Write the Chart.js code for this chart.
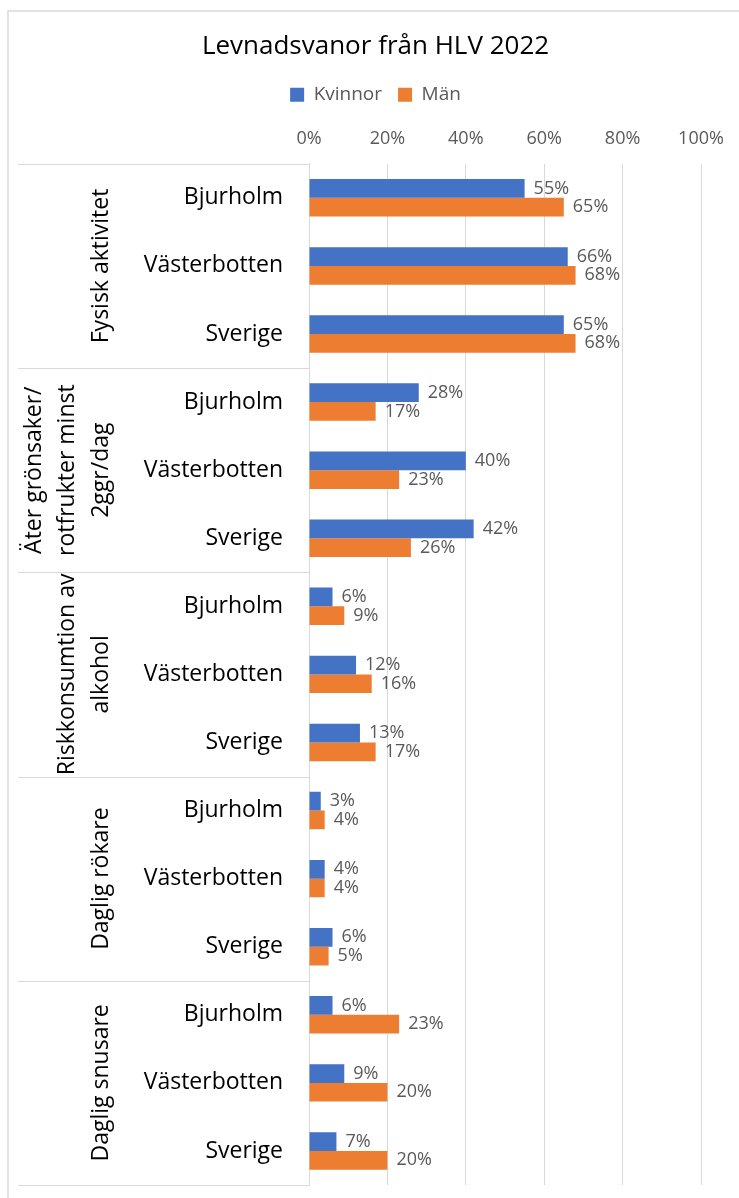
<!DOCTYPE html>
<html>
<head>
<meta charset="utf-8">
<script src="https://cdn.jsdelivr.net/npm/chart.js@4"></script>
<style>
  html, body { margin: 0; padding: 0; background: #fff; }
  #wrap { width: 739px; height: 1198px; }
</style>
</head>
<body>
<div id="wrap"><canvas id="levnadChart" width="739" height="1198"></canvas></div>
<script>
const places = ['Bjurholm', 'Västerbotten', 'Sverige'];
const groups = [
  ['Fysisk aktivitet'],
  ['Äter grönsaker/', 'rotfrukter minst', '2ggr/dag'],
  ['Riskkonsumtion av', 'alkohol'],
  ['Daglig rökare'],
  ['Daglig snusare']
];
const kvinnor = [55, 66, 65, 28, 40, 42, 6, 12, 13, 3, 4, 6, 6, 9, 7];
const man = [65, 68, 68, 17, 23, 26, 9, 16, 17, 4, 4, 5, 23, 20, 20];
const xTicks = [0, 20, 40, 60, 80, 100];

const labels = [];
groups.forEach(() => places.forEach(p => labels.push(p)));

const FONT = "'Open Sans', sans-serif";
const gridCol = '#d9d9d9';

// group labels on the left + separators + outer frame
const groupPlugin = {
  id: 'groupLabels',
  afterDraw(chart) {
    const ctx = chart.ctx;
    const area = chart.chartArea;
    const rowH = (area.bottom - area.top) / labels.length;
    ctx.save();
    ctx.strokeStyle = gridCol;
    ctx.lineWidth = 1.5;
    // outer frame
    ctx.beginPath();
    ctx.moveTo(8, 1198);
    ctx.lineTo(8, 11);
    ctx.lineTo(739, 11);
    ctx.stroke();
    ctx.lineWidth = 1;
    for (let k = 0; k <= groups.length; k++) {
      const y = Math.round(area.top + k * 3 * rowH) + 0.5;
      ctx.beginPath();
      ctx.moveTo(18, y);
      ctx.lineTo(area.left, y);
      ctx.stroke();
    }
    ctx.fillStyle = '#000';
    ctx.font = '23px ' + FONT;
    ctx.textAlign = 'center';
    ctx.textBaseline = 'middle';
    groups.forEach((lines, g) => {
      const yc = area.top + (g * 3 + 1.5) * rowH;
      const n = lines.length;
      lines.forEach((line, i) => {
        const x = 101 - (n - 1 - i) * 33.5;
        ctx.save();
        ctx.translate(x, yc);
        ctx.rotate(-Math.PI / 2);
        ctx.fillText(line, 0, 0);
        ctx.restore();
      });
    });
    ctx.restore();
  }
};

// value labels to the right of each bar
const valuePlugin = {
  id: 'valueLabels',
  afterDatasetsDraw(chart) {
    const ctx = chart.ctx;
    ctx.save();
    ctx.fillStyle = '#595959';
    ctx.font = '18px ' + FONT;
    ctx.textAlign = 'left';
    ctx.textBaseline = 'middle';
    chart.data.datasets.forEach((ds, di) => {
      chart.getDatasetMeta(di).data.forEach((bar, i) => {
        ctx.fillText(ds.data[i] + '%', bar.x + 9, bar.y);
      });
    });
    ctx.restore();
  }
};

const noPad = scale => { scale.paddingTop = 0; scale.paddingBottom = 0; };

new Chart(document.getElementById('levnadChart'), {
  type: 'bar',
  data: {
    labels: labels,
    datasets: [
      { label: 'Kvinnor', data: kvinnor, backgroundColor: '#4472C4', categoryPercentage: 0.55, barPercentage: 1.0 },
      { label: 'Män', data: man, backgroundColor: '#ED7D31', categoryPercentage: 0.55, barPercentage: 1.0 }
    ]
  },
  options: {
    indexAxis: 'y',
    responsive: false,
    animation: false,
    layout: { padding: { left: 12, right: 0, top: 0, bottom: 13 } },
    plugins: {
      title: {
        display: true,
        text: 'Levnadsvanor från HLV 2022',
        color: '#000',
        font: { family: FONT, size: 26, weight: 'normal' },
        padding: { top: 31, bottom: 7 }
      },
      legend: {
        display: true,
        position: 'top',
        labels: {
          color: '#595959',
          font: { family: FONT, size: 19 },
          boxWidth: 14,
          boxHeight: 14,
          padding: 16
        }
      },
      tooltip: { enabled: false }
    },
    scales: {
      x: {
        position: 'top',
        min: 0,
        max: 100,
        afterBuildTicks: scale => { scale.ticks = xTicks.map(v => ({ value: v })); },
        ticks: {
          color: '#595959',
          font: { family: FONT, size: 18 },
          padding: 14,
          callback: v => v + '%'
        },
        grid: { color: gridCol, drawTicks: false },
        border: { display: false }
      },
      y: {
        afterFit: scale => { scale.width = 297; noPad(scale); },
        ticks: {
          color: '#000',
          font: { family: FONT, size: 23 },
          padding: 18
        },
        grid: { display: false },
        border: { display: true, color: gridCol }
      },
      yRight: {
        type: 'linear',
        position: 'right',
        afterFit: scale => { scale.width = 38; noPad(scale); },
        ticks: { display: false },
        grid: { display: false },
        border: { display: false }
      }
    }
  },
  plugins: [groupPlugin, valuePlugin]
});
</script>
</body>
</html>
